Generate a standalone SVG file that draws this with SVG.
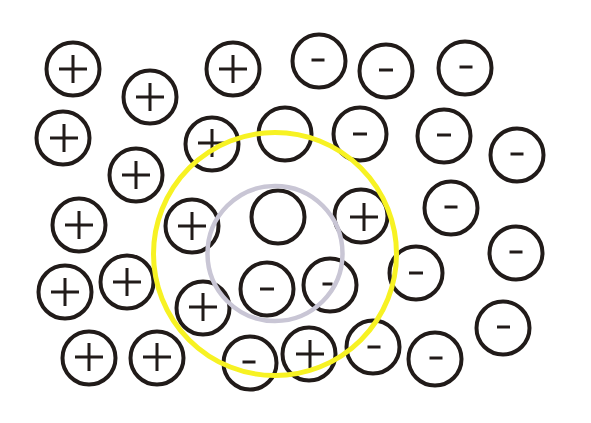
<svg xmlns="http://www.w3.org/2000/svg" width="591" height="423" viewBox="0 0 591 423">
<style>
.ion circle{fill:none;stroke:#211b19;stroke-width:4}
.ion path{fill:none;stroke:#211b19;stroke-width:3}
.ring{fill:none}
</style>
<defs>
<path id="plus" d="M-14,0H14M0,-14V14"/>
<path id="minus" d="M-6.5,0H6.5"/>
</defs>
<rect width="591" height="423" fill="#fff"/>
<g id="ions">
<g id="p1" class="ion"><circle cx="73" cy="69" r="26.5"/><path d="M59,69H87M73,55V83"/></g>
<g id="p2" class="ion"><circle cx="150" cy="97" r="26.5"/><path d="M136,97H164M150,83V111"/></g>
<g id="p3" class="ion"><circle cx="233" cy="69" r="26.5"/><path d="M219,69H247M233,55V83"/></g>
<g id="p4" class="ion"><circle cx="63" cy="138" r="26.5"/><path d="M50,138H78M64,124V152"/></g>
<g id="p5" class="ion"><circle cx="212" cy="144" r="26.5"/><path d="M198,143H226M212,129V157"/></g>
<g id="p6" class="ion"><circle cx="136" cy="175" r="26.5"/><path d="M122,175H150M136,161V189"/></g>
<g id="p7" class="ion"><circle cx="79" cy="225" r="26.5"/><path d="M65,225H93M79,211V239"/></g>
<g id="p8" class="ion"><circle cx="192" cy="226" r="26.5"/><path d="M178,226H206M192,212V240"/></g>
<g id="p9" class="ion"><circle cx="65" cy="292" r="26.5"/><path d="M51,292H79M65,278V306"/></g>
<g id="p10" class="ion"><circle cx="127" cy="282" r="26.5"/><path d="M113,282H141M127,268V296"/></g>
<g id="p11" class="ion"><circle cx="203" cy="308" r="26.5"/><path d="M189,307H217M203,293V321"/></g>
<g id="p12" class="ion"><circle cx="89" cy="358" r="26.5"/><path d="M75,357H103M89,343V371"/></g>
<g id="p13" class="ion"><circle cx="157" cy="358" r="26.5"/><path d="M143,357H171M157,343V371"/></g>
<g id="p14" class="ion"><circle cx="361" cy="216" r="26.5"/><path d="M350,217H378M364,203V231"/></g>
<g id="p15" class="ion"><circle cx="309" cy="354" r="26.5"/><path d="M296,354H324M310,340V368"/></g>
<g id="m1" class="ion"><circle cx="319" cy="61" r="26.5"/><path d="M311.5,60H324.5"/></g>
<g id="m2" class="ion"><circle cx="386" cy="71" r="26.5"/><path d="M379,70H393"/></g>
<g id="m3" class="ion"><circle cx="465" cy="68" r="26.5"/><path d="M459.5,67H472.5"/></g>
<g id="m4" class="ion"><circle cx="285" cy="134" r="26.5"/><path d="M277.5,133H290.5"/></g>
<g id="m5" class="ion"><circle cx="360" cy="134" r="26.5"/><path d="M353,134H367"/></g>
<g id="m6" class="ion"><circle cx="444" cy="136" r="26.5"/><path d="M437,135H451"/></g>
<g id="m7" class="ion"><circle cx="517" cy="155" r="26.5"/><path d="M510.5,154H523.5"/></g>
<g id="m8" class="ion"><circle cx="451" cy="208" r="26.5"/><path d="M444.5,207H457.5"/></g>
<g id="m9" class="ion"><circle cx="516" cy="253" r="26.5"/><path d="M509.5,252H522.5"/></g>
<g id="m10" class="ion"><circle cx="416" cy="273" r="26.5"/><path d="M409,273H423"/></g>
<g id="m11" class="ion"><circle cx="330" cy="285" r="26.5"/><path d="M322.5,284H332.5"/></g>
<g id="m12" class="ion"><circle cx="267" cy="289" r="26.5"/><path d="M260,289H274"/></g>
<g id="m13" class="ion"><circle cx="503" cy="328" r="26.5"/><path d="M497,327H510"/></g>
<g id="m14" class="ion"><circle cx="373" cy="347" r="26.5"/><path d="M367.5,347H380.5"/></g>
<g id="m15" class="ion"><circle cx="435" cy="359" r="26.5"/><path d="M429.5,358H442.5"/></g>
<g id="m16" class="ion"><circle cx="250" cy="363" r="26.5"/><path d="M242.5,362H255.5"/></g>
<g id="empty" class="ion"><circle cx="278" cy="217" r="26.5"/></g>
</g>
<g id="rings">
<circle id="inner-ring" class="ring" cx="275" cy="253.5" r="67.5" stroke="#c9c6d5" stroke-width="4.5"/>
<circle id="outer-ring" class="ring" cx="275" cy="254" r="121.5" stroke="#f7f223" stroke-width="5"/>
</g>
</svg>
